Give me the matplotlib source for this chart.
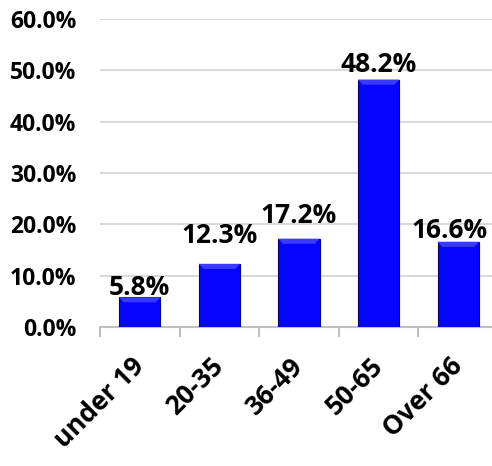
import numpy as np
import matplotlib.pyplot as plt
from matplotlib.patches import Polygon

# age brackets and their share of respondents (%)
age_groups = ['under 19', '20-35', '36-49', '50-65', 'Over 66']
share_pct = [5.8, 12.3, 17.2, 48.2, 16.6]
y_ticks = [0, 10, 20, 30, 40, 50, 60]

# nudge (points) for each value label, (dx, dy)
label_offsets = [(0, 1.5), (0, 15), (0, 11.5), (0, 5.5), (-6.5, 2.5)]

plt.rcParams['font.family'] = ['Open Sans', 'DejaVu Sans']
plt.rcParams['font.weight'] = 'bold'

fig = plt.figure(figsize=(4.92, 4.66), dpi=100)
ax = fig.add_axes([100 / 492, 139 / 466, 398 / 492, 308 / 466])

x = np.arange(len(age_groups))
width = 0.52
bars = ax.bar(x, share_pct, width=width, color='#0505ff', edgecolor='#00007a',
              linewidth=0.8, zorder=3)

# lighter bevel along the top of every bar
for b in bars:
    x0, x1 = b.get_x(), b.get_x() + b.get_width()
    top = b.get_height()
    dx, dy = 0.06, 1.0
    bevel = Polygon([[x0, top], [x1, top], [x1 - dx, top - dy], [x0 + dx, top - dy]],
                    closed=True, facecolor='#3a3aff', edgecolor='none', zorder=4)
    ax.add_patch(bevel)

for xi, v, off in zip(x, share_pct, label_offsets):
    ax.annotate(f'{v:.1f}%', (xi, v), xytext=off, textcoords='offset points',
                ha='center', va='baseline', fontsize=19, fontweight='bold')

ax.set_xlim(-0.5, len(age_groups) - 0.5)
ax.set_ylim(0, 60)
ax.set_yticks(y_ticks)
ax.set_yticklabels([f'{t:.1f}%' for t in y_ticks])
ax.yaxis.grid(True, color='#d9d9d9', linewidth=1.5, zorder=0)
ax.set_axisbelow(True)

ax.set_xticks(x)
ax.set_xticklabels(age_groups, rotation=45, ha='right', va='center',
                   rotation_mode='anchor')
ax.set_xticks(np.arange(len(age_groups) + 1) - 0.5, minor=True)
ax.tick_params(axis='x', which='major', length=0, pad=25, labelsize=19)
ax.tick_params(axis='x', which='minor', length=7.5, width=1.5, color='#bfbfbf')
ax.tick_params(axis='y', length=0, pad=17, labelsize=16.5)

for side in ['top', 'right', 'left']:
    ax.spines[side].set_visible(False)
ax.spines['bottom'].set_color('#bfbfbf')
ax.spines['bottom'].set_linewidth(1.5)

fig.savefig('out.png', dpi=100)
